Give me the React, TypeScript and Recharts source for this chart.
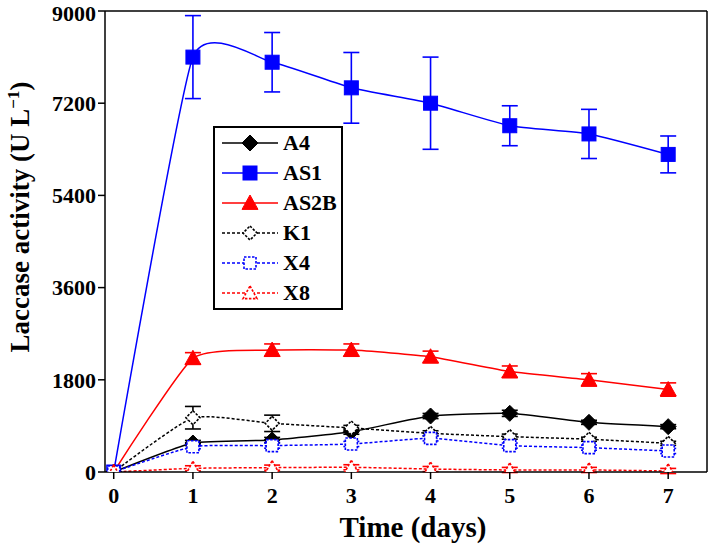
import React from "react"
import {
  LineChart, Line, XAxis, YAxis, ErrorBar, Legend, ReferenceLine,
} from "recharts"

// days sampled
const days = [0, 1, 2, 3, 4, 5, 6, 7]

// laccase activity (U/L) per strain
const a4 = [0, 566, 625, 787, 1093, 1145, 970, 885]
const a4Err = [0, 50, 50, 50, 50, 60, 40, 40]
const as1 = [0, 8100, 8000, 7500, 7200, 6760, 6600, 6200]
const as1Err = [0, 810, 580, 690, 900, 390, 480, 360]
const as2b = [0, 2220, 2380, 2380, 2250, 1960, 1800, 1610]
const as2bErr = [0, 110, 120, 120, 110, 110, 120, 130]
const k1 = [0, 1060, 950, 860, 755, 690, 640, 560]
const k1Err = [0, 220, 160, 50, 50, 50, 40, 40]
const x4 = [0, 494, 515, 547, 657, 515, 475, 410]
const x4Err = [0, 40, 50, 50, 50, 50, 50, 50]
const x8 = [0, 72, 85, 92, 58, 40, 40, 20]
const x8Err = [0, 50, 50, 50, 50, 50, 50, 50]

const yTicks = [0, 1800, 3600, 5400, 7200, 9000]
const xTicks = [0, 1, 2, 3, 4, 5, 6, 7]

const data = days.map((d, i) => ({
  day: d,
  A4: a4[i], A4e: a4Err[i],
  AS1: as1[i], AS1e: as1Err[i],
  AS2B: as2b[i], AS2Be: as2bErr[i],
  K1: k1[i], K1e: k1Err[i],
  X4: x4[i], X4e: x4Err[i],
  X8: x8[i], X8e: x8Err[i],
}))

type Shape = "diamond" | "square" | "triangle"

const series: { key: string; color: string; shape: Shape; open: boolean }[] = [
  { key: "A4", color: "#000000", shape: "diamond", open: false },
  { key: "AS1", color: "#0000ff", shape: "square", open: false },
  { key: "AS2B", color: "#ff0000", shape: "triangle", open: false },
  { key: "K1", color: "#000000", shape: "diamond", open: true },
  { key: "X4", color: "#0000ff", shape: "square", open: true },
  { key: "X8", color: "#ff0000", shape: "triangle", open: true },
]

const FONT = "'Liberation Serif', 'Times New Roman', serif"

// cardinal spline (tension 0.5), softer overshoot than "natural"
function cardinalCurve(context: any) {
  const k = (1 - 0.5) / 6
  let x0 = NaN, y0 = NaN, x1 = NaN, y1 = NaN, x2 = NaN, y2 = NaN
  let pt = 0
  let line = NaN
  const seg = (x: number, y: number) => {
    context.bezierCurveTo(
      x1 + k * (x2 - x0), y1 + k * (y2 - y0),
      x2 + k * (x1 - x), y2 + k * (y1 - y),
      x2, y2,
    )
  }
  return {
    areaStart() { line = 0 },
    areaEnd() { line = NaN },
    lineStart() { x0 = x1 = x2 = y0 = y1 = y2 = NaN; pt = 0 },
    lineEnd() {
      if (pt === 2) context.lineTo(x2, y2)
      else if (pt === 3) seg(x1, y1)
      if (line || (line !== 0 && pt === 1)) context.closePath()
      line = 1 - line
    },
    point(xv: number, yv: number) {
      const x = +xv, y = +yv
      if (pt === 0) {
        pt = 1
        if (line) context.lineTo(x, y)
        else context.moveTo(x, y)
      } else if (pt === 1) {
        pt = 2
        x1 = x; y1 = y
      } else {
        pt = 3
        seg(x, y)
      }
      x0 = x1; x1 = x2; x2 = x
      y0 = y1; y1 = y2; y2 = y
    },
  }
}

function Marker({ cx, cy, shape, color, open }: { cx: number; cy: number; shape: Shape; color: string; open: boolean }) {
  const s = open ? 6 : 7
  const common = {
    fill: open ? "#fff" : color,
    stroke: color,
    strokeWidth: open ? 1.6 : 1,
    strokeDasharray: open ? "2.5 1.5" : undefined,
  }
  if (shape === "diamond") {
    const d = s + 1
    return <polygon points={`${cx},${cy - d} ${cx + d},${cy} ${cx},${cy + d} ${cx - d},${cy}`} {...common} />
  }
  if (shape === "square") {
    return <rect x={cx - s} y={cy - s} width={s * 2} height={s * 2} {...common} />
  }
  const t = s + 1
  return <polygon points={`${cx},${cy - t} ${cx + t},${cy + t * 0.8} ${cx - t},${cy + t * 0.8}`} {...common} />
}

function LegendBox() {
  return (
    <div style={{
      border: "2px solid #000", width: 126, background: "#fff",
      fontFamily: FONT, fontWeight: "bold", fontSize: 22,
    }}>
      {series.map((s) => (
        <div key={s.key} style={{ height: 30, display: "flex", alignItems: "center" }}>
          <svg width={68} height={30}>
            <line x1={7} x2={63} y1={15} y2={15} stroke={s.color} strokeWidth={1.5}
              strokeDasharray={s.open ? "3 2" : undefined} />
            <Marker cx={35} cy={15} shape={s.shape} color={s.color} open={s.open} />
          </svg>
          <span style={{ lineHeight: "30px" }}>{s.key}</span>
        </div>
      ))}
    </div>
  )
}

export default function App() {
  return (
    <div style={{ position: "absolute", left: 0, top: 0 }}>
      <LineChart width={709} height={544} data={data}
        margin={{ top: 11, right: 2, left: 0, bottom: 0 }}>
        <XAxis dataKey="day" type="number" domain={[-0.11, 7.49]} ticks={xTicks}
          height={72} tickSize={7} tickMargin={8}
          stroke="#000" strokeWidth={1.5}
          tick={{ fontFamily: FONT, fontWeight: "bold", fontSize: 22, fill: "#000" }}
          label={{
            content: () => (
              <text x={413} y={537} textAnchor="middle" fontFamily={FONT}
                fontWeight="bold" fontSize={29} fill="#000">Time (days)</text>
            ),
          }} />
        <YAxis type="number" domain={[0, 9000]} ticks={yTicks} width={105}
          tickSize={7} tickMargin={2} stroke="#000" strokeWidth={1.5}
          allowDataOverflow
          tick={{ fontFamily: FONT, fontWeight: "bold", fontSize: 22, fill: "#000" }}
          label={{
            content: () => (
              <text x={29} y={217} transform="rotate(-90 29 217)" textAnchor="middle"
                fontFamily={FONT} fontWeight="bold" fontSize={27} fill="#000">
                Laccase activity (U L<tspan dy={-10} fontSize={17}>−1</tspan><tspan dy={10}>)</tspan>
              </text>
            ),
          }} />
        <ReferenceLine y={9000} stroke="#000" strokeWidth={1.5} />
        <ReferenceLine x={7.49} stroke="#000" strokeWidth={1.5} />
        {series.map((s) => (
          <Line key={s.key} dataKey={s.key} type={cardinalCurve as any} stroke={s.color}
            strokeWidth={1.5} strokeDasharray={s.open ? "3 2" : undefined}
            isAnimationActive={false} legendType="none"
            dot={(p: any) => (
              <Marker key={`${s.key}-${p.index}`} cx={p.cx} cy={p.cy}
                shape={s.shape} color={s.color} open={s.open} />
            )}
            activeDot={false}>
            <ErrorBar dataKey={`${s.key}e`} width={8} stroke={s.color} strokeWidth={1.6}
              direction="y" />
          </Line>
        ))}
        <Legend layout="vertical" align="center" verticalAlign="middle"
          wrapperStyle={{ left: 213, top: 126, width: 130 }}
          content={() => <LegendBox />} />
      </LineChart>
    </div>
  )
}
